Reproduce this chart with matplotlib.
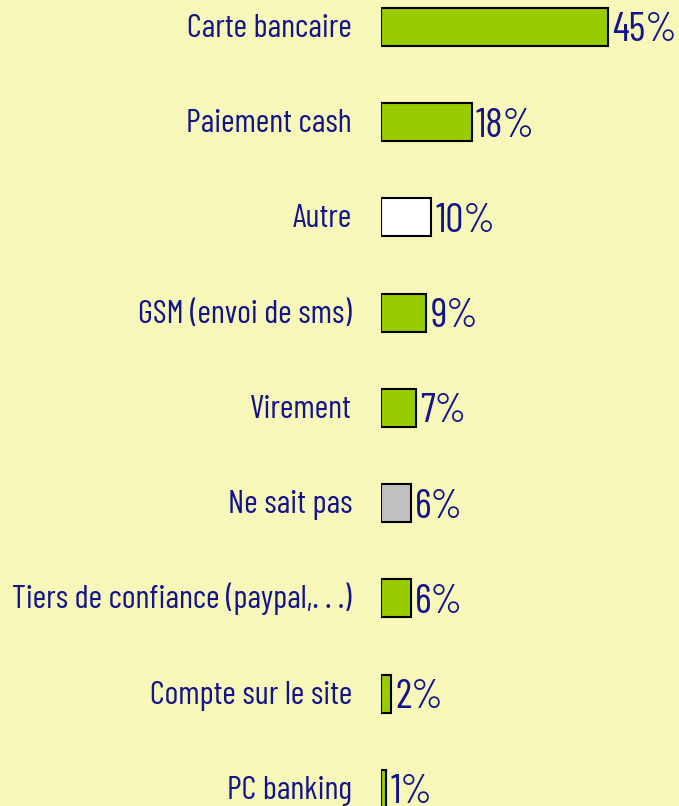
import matplotlib.pyplot as plt

categories = ["Carte bancaire", "Paiement cash", "Autre", "GSM (envoi de sms)",
              "Virement", "Ne sait pas", "Tiers de confiance (paypal,. . .)",
              "Compte sur le site", "PC banking"]
values = [45, 18, 10, 9, 7, 6, 6, 2, 1]
colors = ["#99CC00", "#99CC00", "#FFFFFF", "#99CC00", "#99CC00",
          "#C0C0C0", "#99CC00", "#99CC00", "#99CC00"]

bg = "#F7F7BA"
navy = "#14148A"
fonts = ["Barlow Condensed", "Liberation Sans Narrow", "DejaVu Sans"]

# pixel geometry of the original: 5.04 px per %, 95.25 px per row
px_pct = 5.04
px_row = 95.25

fig = plt.figure(figsize=(6.79, 8.06), dpi=100, facecolor=bg)
ax = fig.add_axes([381 / 679, 0, 1 - 381 / 679, 1])
ax.set_facecolor(bg)

pos = list(range(len(categories)))
ax.barh(pos, values, height=38 / px_row, color=colors, edgecolor="black", linewidth=1.5)

ax.set_xlim(0, 298 / px_pct)
ax.set_ylim((806 - 27) / px_row, -27 / px_row)

for i, (c, v) in enumerate(zip(categories, values)):
    ax.text(-29 / px_pct, i + 10 / px_row, c, ha="right", va="baseline", color=navy,
            fontsize=23.7, family=fonts, clip_on=False)
    ax.text(v + 0.8, i + 14.5 / px_row, f"{v}%", ha="left", va="baseline", color=navy,
            fontsize=29, family=fonts)

ax.axis("off")
fig.savefig("out.png", dpi=100, facecolor=bg)
